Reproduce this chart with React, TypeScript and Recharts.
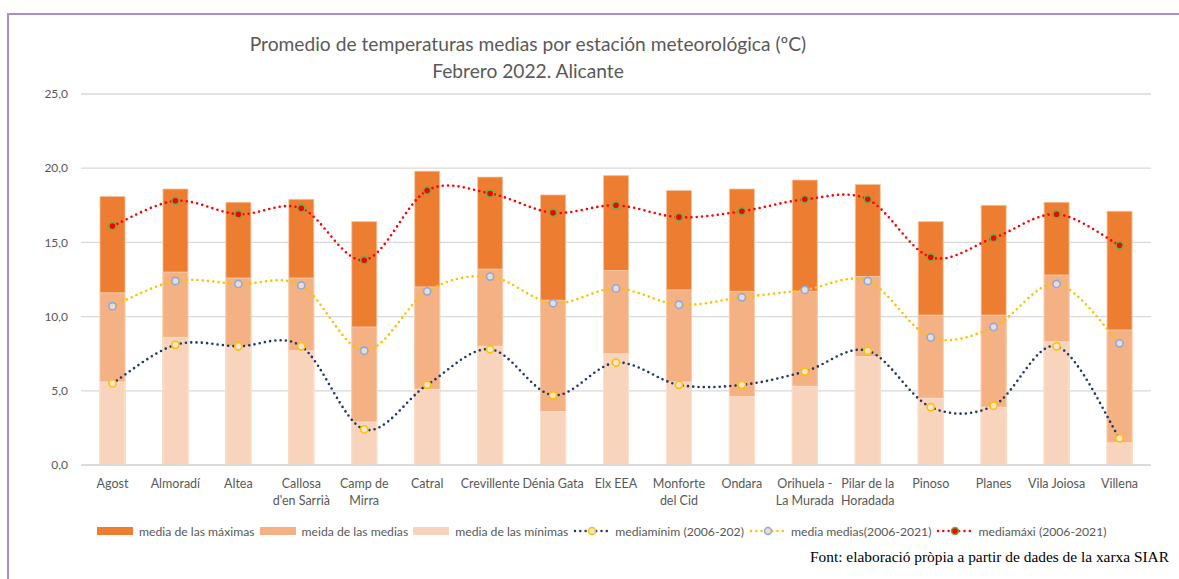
import React from "react";
import {
  ComposedChart,
  Bar,
  Line,
  XAxis,
  YAxis,
  CartesianGrid,
} from "recharts";

const stations = [
  "Agost",
  "Almoradí",
  "Altea",
  "Callosa\nd'en Sarrià",
  "Camp de\nMirra",
  "Catral",
  "Crevillente",
  "Dénia Gata",
  "Elx EEA",
  "Monforte\ndel Cid",
  "Ondara",
  "Orihuela -\nLa Murada",
  "Pilar de la\nHoradada",
  "Pinoso",
  "Planes",
  "Vila Joiosa",
  "Villena",
];

// barras 2022
const mediaMaximas = [18.1, 18.6, 17.7, 17.9, 16.4, 19.8, 19.4, 18.2, 19.5, 18.5, 18.6, 19.2, 18.9, 16.4, 17.5, 17.7, 17.1];
const mediaMedias = [11.6, 13.0, 12.6, 12.6, 9.3, 12.0, 13.2, 11.1, 13.1, 11.8, 11.7, 11.7, 12.7, 10.1, 10.1, 12.8, 9.1];
const mediaMinimas = [5.6, 8.6, 8.0, 7.7, 2.9, 5.1, 8.0, 3.6, 7.5, 5.6, 4.6, 5.3, 7.3, 4.5, 3.9, 8.3, 1.5];

// series históricas 2006-2021
const histMinimas = [5.5, 8.1, 8.0, 8.0, 2.4, 5.4, 7.8, 4.7, 6.9, 5.4, 5.4, 6.3, 7.7, 3.9, 4.0, 8.0, 1.8];
const histMedias = [10.7, 12.4, 12.2, 12.1, 7.7, 11.7, 12.7, 10.9, 11.9, 10.8, 11.3, 11.8, 12.4, 8.6, 9.3, 12.2, 8.2];
const histMaximas = [16.1, 17.8, 16.9, 17.3, 13.8, 18.5, 18.3, 17.0, 17.5, 16.7, 17.1, 17.9, 17.9, 14.0, 15.3, 16.9, 14.8];

const yTicks = [0, 5, 10, 15, 20, 25];

const data = stations.map((name, i) => ({
  name,
  max: mediaMaximas[i],
  med: mediaMedias[i],
  min: mediaMinimas[i],
  hmin: histMinimas[i],
  hmed: histMedias[i],
  hmax: histMaximas[i],
}));

const FONT = "Lato, 'Open Sans', sans-serif";
const GREY = "#595959";

// Excel-style smoothed line (Catmull-Rom)
const smoothCurve = (ctx: any) => {
  let pts: number[][] = [];
  return {
    areaStart() {},
    areaEnd() {},
    lineStart() {
      pts = [];
    },
    point(x: number, y: number) {
      pts.push([+x, +y]);
    },
    lineEnd() {
      if (!pts.length) return;
      ctx.moveTo(pts[0][0], pts[0][1]);
      for (let i = 0; i < pts.length - 1; i++) {
        const p0 = pts[i - 1] || pts[i];
        const p1 = pts[i];
        const p2 = pts[i + 1];
        const p3 = pts[i + 2] || p2;
        ctx.bezierCurveTo(
          p1[0] + (p2[0] - p0[0]) / 6,
          p1[1] + (p2[1] - p0[1]) / 6,
          p2[0] - (p3[0] - p1[0]) / 6,
          p2[1] - (p3[1] - p1[1]) / 6,
          p2[0],
          p2[1]
        );
      }
    },
  };
};

const StationTick = (props: any) => {
  const { x, y, payload } = props;
  const lines = String(payload.value).split("\n");
  return (
    <text x={x} y={y} textAnchor="middle" fill={GREY} fontSize={12.5} fontFamily={FONT}>
      {lines.map((l, i) => (
        <tspan key={i} x={x} dy={i === 0 ? 15 : 17}>
          {l}
        </tspan>
      ))}
    </text>
  );
};

const legendItems = [
  { label: "media de las máximas", kind: "bar", color: "#ED7D31" },
  { label: "meida de las medias", kind: "bar", color: "#F4B183" },
  { label: "media de las mínimas", kind: "bar", color: "#F8D4BC" },
  { label: "mediamínim (2006-202)", kind: "line", color: "#203864", fill: "#FBE5D6", ring: "#FFC000" },
  { label: "media medias(2006-2021)", kind: "line", color: "#FFC000", fill: "#E8DCD8", ring: "#8FAADC" },
  { label: "mediamáxi (2006-2021)", kind: "line", color: "#FF0000", fill: "#FF0000", ring: "#70AD47" },
];

function LegendRow() {
  return (
    <div
      style={{
        position: "absolute",
        left: 97,
        top: 523,
        display: "flex",
        alignItems: "center",
        fontFamily: FONT,
        fontSize: 12.2,
        color: GREY,
        whiteSpace: "nowrap",
      }}
    >
      {legendItems.map((it) => (
        <div key={it.label} style={{ display: "flex", alignItems: "center", marginRight: 5 }}>
          <svg width={38} height={16} style={{ marginRight: 4 }}>
            {it.kind === "bar" ? (
              <rect x={0} y={4} width={36} height={8} fill={it.color} />
            ) : (
              <g>
                <line
                  x1={2}
                  y1={8}
                  x2={36}
                  y2={8}
                  stroke={it.color}
                  strokeWidth={2.5}
                  strokeDasharray="0 5.3"
                  strokeLinecap="round"
                />
                <circle cx={19} cy={8} r={3.5} fill={it.fill} stroke={it.ring} strokeWidth={1.5} />
              </g>
            )}
          </svg>
          <span>{it.label}</span>
        </div>
      ))}
    </div>
  );
}

const dotStyle = (fill: string, stroke: string) => ({
  r: 3.6,
  fill,
  stroke,
  strokeWidth: 1.6,
  strokeDasharray: "",
});

export default function App() {
  return (
    <div
      style={{
        position: "absolute",
        left: 0,
        top: 0,
        width: 1179,
        height: 579,
        overflow: "hidden",
        background: "#fff",
      }}
    >
      <div
        style={{
          position: "absolute",
          left: 7,
          top: 13,
          width: 1200,
          height: 600,
          borderLeft: "2px solid #A98FC9",
          borderTop: "2px solid #A98FC9",
        }}
      />
      <div
        style={{
          position: "absolute",
          left: 228,
          width: 600,
          top: 30,
          textAlign: "center",
          fontFamily: FONT,
          fontSize: 19.2,
          lineHeight: "27px",
          color: GREY,
        }}
      >
        <div>Promedio de temperaturas medias por estación meteorológica (ºC)</div>
        <div>Febrero 2022. Alicante</div>
      </div>

      <div style={{ position: "absolute", left: 0, top: 0 }}>
        <ComposedChart
          width={1179}
          height={579}
          data={data}
          margin={{ top: 94, right: 28, left: 0, bottom: 54 }}
          barGap={-25}
        >
          <CartesianGrid vertical={false} stroke="#D9D9D9" strokeWidth={1.3} />
          <XAxis
            dataKey="name"
            interval={0}
            height={60}
            tickLine={false}
            axisLine={{ stroke: "#D9D9D9", strokeWidth: 1.3 }}
            tick={<StationTick />}
          />
          <YAxis
            domain={[0, 25]}
            ticks={yTicks}
            width={81}
            tickLine={false}
            axisLine={false}
            tickMargin={7}
            tickFormatter={(v: number) => v.toFixed(1).replace(".", ",")}
            tick={{ fill: GREY, fontSize: 12, fontFamily: FONT }}
          />
          <Bar dataKey="max" barSize={25} fill="#ED7D31" stroke="#F6C3A0" strokeWidth={0.8} isAnimationActive={false} />
          <Bar dataKey="med" barSize={25} fill="#F4B183" stroke="#F9D3B8" strokeWidth={0.8} isAnimationActive={false} />
          <Bar dataKey="min" barSize={25} fill="#F8D4BC" stroke="#FBE4D5" strokeWidth={0.8} isAnimationActive={false} />
          <Line
            dataKey="hmin"
            type={smoothCurve as any}
            stroke="#203864"
            strokeWidth={2.6}
            strokeDasharray="0 5.3"
            strokeLinecap="round"
            dot={dotStyle("#FBE5D6", "#FFC000")}
            activeDot={false}
            isAnimationActive={false}
          />
          <Line
            dataKey="hmed"
            type={smoothCurve as any}
            stroke="#FFC000"
            strokeWidth={2.6}
            strokeDasharray="0 5.3"
            strokeLinecap="round"
            dot={dotStyle("#E8DCD8", "#8FAADC")}
            activeDot={false}
            isAnimationActive={false}
          />
          <Line
            dataKey="hmax"
            type={smoothCurve as any}
            stroke="#FF0000"
            strokeWidth={2.6}
            strokeDasharray="0 5.3"
            strokeLinecap="round"
            dot={dotStyle("#FF0000", "#70AD47")}
            activeDot={false}
            isAnimationActive={false}
          />
        </ComposedChart>
      </div>

      <LegendRow />

      <div
        style={{
          position: "absolute",
          left: 810,
          top: 548,
          fontFamily: "'Liberation Serif', 'Times New Roman', serif",
          fontSize: 15.4,
          color: "#000",
          whiteSpace: "nowrap",
        }}
      >
        Font: elaboració pròpia a partir de dades de la xarxa SIAR
      </div>
    </div>
  );
}
